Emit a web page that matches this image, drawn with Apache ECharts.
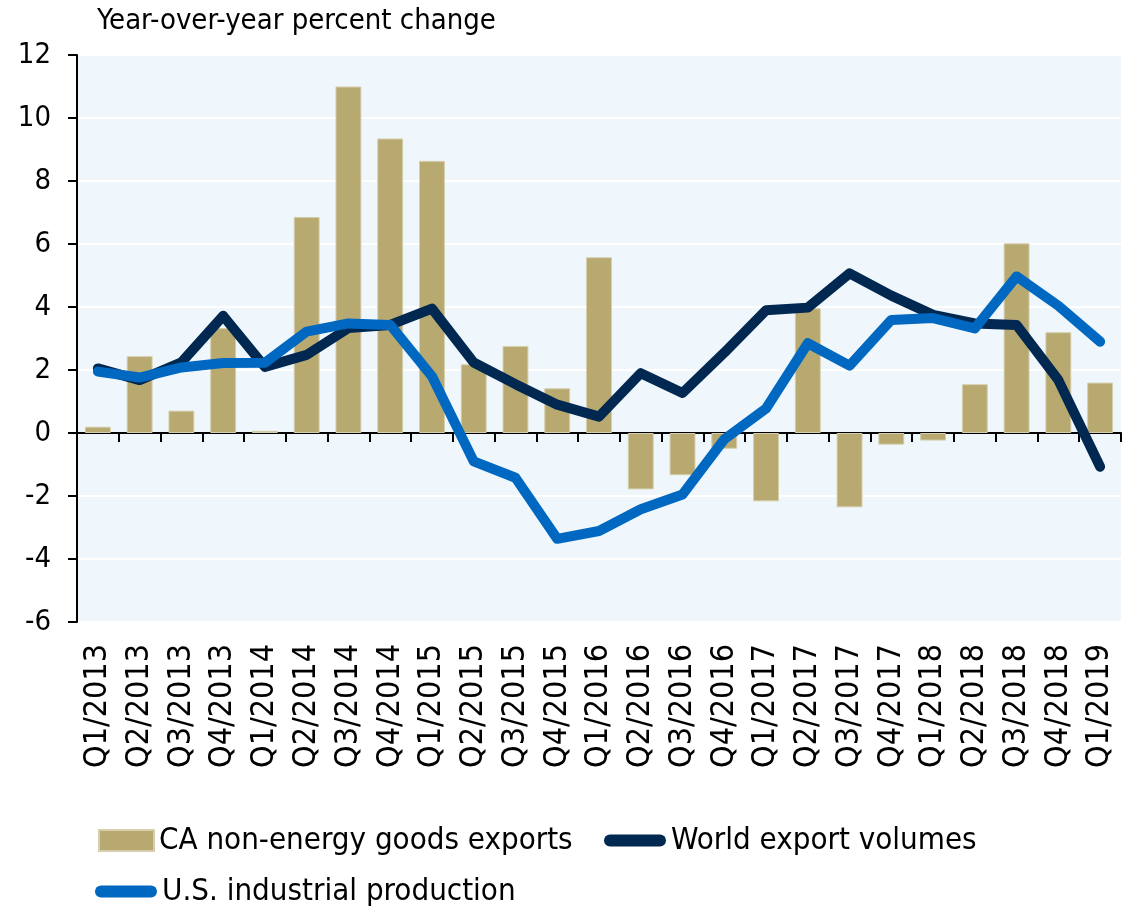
<!DOCTYPE html>
<html>
<head>
<meta charset="utf-8">
<script src="https://cdn.jsdelivr.net/npm/echarts@6/dist/echarts.min.js"></script>
<style>
html,body{margin:0;padding:0;background:#fff;}
#chart{width:1130px;height:908px;}
</style>
</head>
<body>
<div id="chart"></div>
<script>
var categories = ['Q1/2013','Q2/2013','Q3/2013','Q4/2013','Q1/2014','Q2/2014','Q3/2014','Q4/2014',
  'Q1/2015','Q2/2015','Q3/2015','Q4/2015','Q1/2016','Q2/2016','Q3/2016','Q4/2016',
  'Q1/2017','Q2/2017','Q3/2017','Q4/2017','Q1/2018','Q2/2018','Q3/2018','Q4/2018','Q1/2019'];
var caExports = [0.2, 2.44, 0.71, 3.33, 0.07, 6.86, 11.0, 9.35, 8.64, 2.18, 2.76, 1.42,
  5.58, -1.79, -1.34, -0.5, -2.17, 3.96, -2.36, -0.37, -0.24, 1.55, 6.02, 3.2, 1.6];
var worldExports = [2.05, 1.68, 2.24, 3.72, 2.1, 2.48, 3.33, 3.43, 3.95, 2.24, 1.55, 0.9,
  0.52, 1.9, 1.27, 2.55, 3.9, 3.98, 5.07, 4.36, 3.75, 3.48, 3.43, 1.68, -1.07];
var usProduction = [1.95, 1.76, 2.08, 2.22, 2.23, 3.22, 3.48, 3.43, 1.8, -0.9, -1.42, -3.36,
  -3.11, -2.42, -1.95, -0.2, 0.78, 2.85, 2.14, 3.59, 3.65, 3.32, 4.97, 4.04, 2.9];
var yTicks = {min: -6, max: 12, interval: 2};
var titleText = 'Year-over-year percent change';
var names = ['CA non-energy goods exports', 'World export volumes', 'U.S. industrial production'];

var FONT = "'DejaVu Sans Condensed', 'DejaVu Sans', sans-serif";
var pill = 'path://M6,0 L56,0 A6,6 0 0 1 56,12 L6,12 A6,6 0 0 1 6,0 Z';

var chart = echarts.init(document.getElementById('chart'), null, {renderer: 'canvas'});
chart.setOption({
  animation: false,
  backgroundColor: '#ffffff',
  title: {
    text: titleText, left: 92, top: 2,
    textStyle: {fontFamily: FONT, fontSize: 29, fontWeight: 'normal', color: '#000'}
  },
  legend: [
    {data: [{name: names[0], icon: 'rect'}], left: 98, top: 825, padding: 0, itemWidth: 55, itemHeight: 21,
     itemGap: 0, textStyle: {fontFamily: FONT, fontSize: 31, color: '#000'}},
    {data: [{name: names[1], icon: pill}], left: 604, top: 825, padding: 0, itemWidth: 62, itemHeight: 13,
     textStyle: {fontFamily: FONT, fontSize: 31, color: '#000'}},
    {data: [{name: names[2], icon: pill}], left: 95, top: 876, padding: 0, itemWidth: 62, itemHeight: 13,
     textStyle: {fontFamily: FONT, fontSize: 31, color: '#000'}}
  ],
  grid: {left: 77, right: 9, top: 55, bottom: 286, show: true, backgroundColor: '#eff7fd', borderWidth: 0},
  xAxis: [
    {type: 'category', data: categories, position: 'bottom',
     axisLine: {onZero: true, lineStyle: {color: '#000', width: 2}},
     axisTick: {show: true, length: 9, alignWithLabel: false, interval: 0, lineStyle: {color: '#000', width: 2}},
     axisLabel: {show: false}, splitLine: {show: false}},
    {type: 'category', data: categories, position: 'bottom',
     axisLine: {show: false, onZero: false}, axisTick: {show: false},
     axisLabel: {show: true, interval: 0, hideOverlap: false, rotate: 90, margin: 22, fontFamily: FONT, fontSize: 32, color: '#000'},
     splitLine: {show: false}}
  ],
  yAxis: {
    type: 'value', min: yTicks.min, max: yTicks.max, interval: yTicks.interval,
    axisLine: {show: true, lineStyle: {color: '#000', width: 2}},
    axisTick: {show: true, length: 9, lineStyle: {color: '#000', width: 2}},
    axisLabel: {margin: 26, fontFamily: FONT, fontSize: 29, color: '#000'},
    splitLine: {show: true, lineStyle: {color: '#ffffff', width: 2}}
  },
  series: [
    {name: names[0], type: 'bar', data: caExports, xAxisIndex: 0, barWidth: '62%',
     itemStyle: {color: '#b8a970', borderColor: '#d6ceac', borderWidth: 1}},
    {name: names[1], type: 'line', data: worldExports, xAxisIndex: 0, symbol: 'none',
     lineStyle: {color: '#002850', width: 10, cap: 'round', join: 'round'}, itemStyle: {color: '#002850'}},
    {name: names[2], type: 'line', data: usProduction, xAxisIndex: 0, symbol: 'none',
     lineStyle: {color: '#0068c0', width: 10, cap: 'round', join: 'round'}, itemStyle: {color: '#0068c0'}}
  ]
});
</script>
</body>
</html>
